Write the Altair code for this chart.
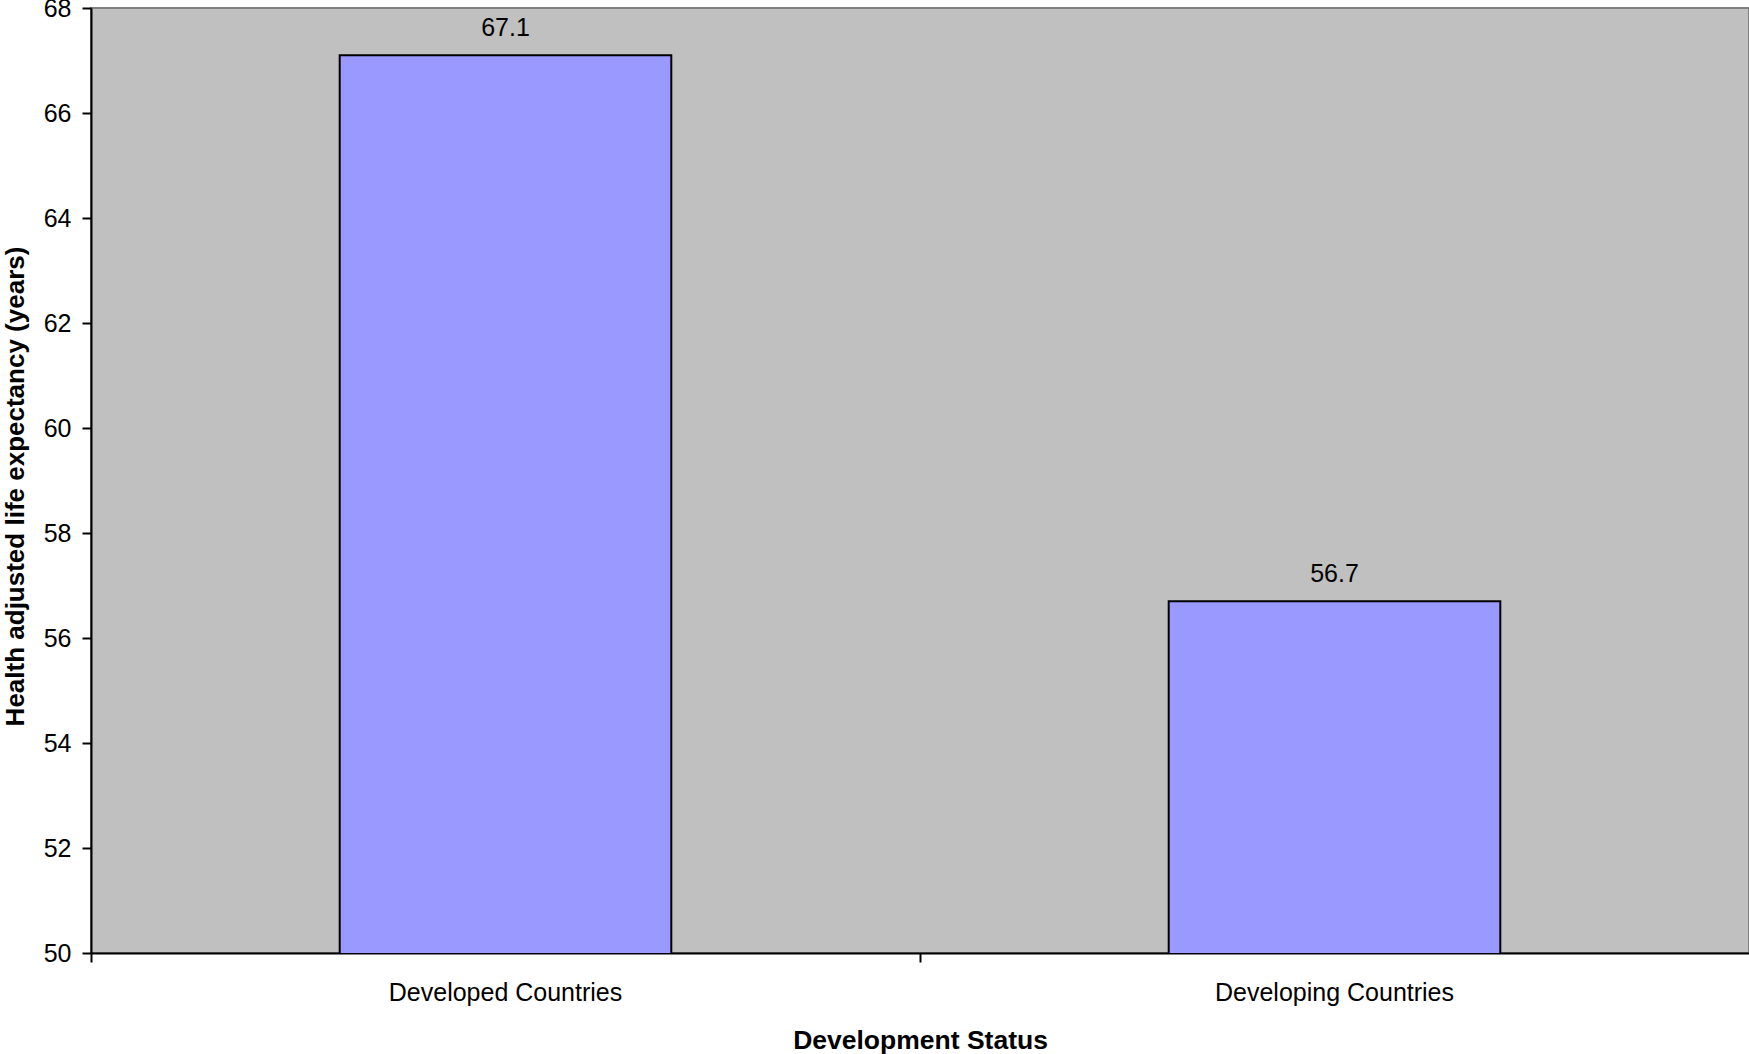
import altair as alt
import pandas as pd

categories = ["Developed Countries", "Developing Countries"]
values = [67.1, 56.7]
y_ticks = [50, 52, 54, 56, 58, 60, 62, 64, 66, 68]

df = pd.DataFrame({"status": categories, "hale": values})

FONT = "Liberation Sans"

x_enc = alt.X(
    "status:N",
    sort=categories,
    scale=alt.Scale(paddingInner=0.6, paddingOuter=0.3),
    axis=alt.Axis(
        title="Development Status",
        labelAngle=0,
        labelLimit=0,
        bandPosition=-0.75,
        labelFontSize=25,
        labelFont=FONT,
        labelColor="#000000",
        labelPadding=18,
        tickSize=9,
        tickWidth=2,
        tickColor="#000000",
        domainColor="#000000",
        domainWidth=2,
        titleFont=FONT,
        titleFontSize=26.5,
        titleFontWeight="bold",
        titleColor="#000000",
        titleBaseline="alphabetic",
        titleY=95,
        grid=False,
    ),
)
y_enc = alt.Y(
    "hale:Q",
    scale=alt.Scale(domain=[50, 68], nice=False, zero=False),
    axis=alt.Axis(
        title="Health adjusted life expectancy (years)",
        values=y_ticks,
        labelFontSize=25,
        labelFont=FONT,
        labelColor="#000000",
        labelPadding=11,
        tickSize=9,
        tickWidth=2,
        tickColor="#000000",
        domainColor="#000000",
        domainWidth=2,
        titleFont=FONT,
        titleFontSize=26,
        titleFontWeight="bold",
        titleColor="#000000",
        titleBaseline="alphabetic",
        titleX=-68,
        titleY=478,
        grid=False,
    ),
)

bars = alt.Chart(df).mark_bar(
    color="#9999FF", stroke="#000000", strokeWidth=2, clip=True
).encode(x=x_enc, y=y_enc)

labels = alt.Chart(df).mark_text(
    dy=-19, baseline="alphabetic", fontSize=25, font=FONT, color="#000000"
).encode(x=alt.X("status:N", sort=categories), y=alt.Y("hale:Q"), text=alt.Text("hale:Q", format=".1f"))

chart = (
    alt.layer(bars, labels)
    .properties(
        width=1658,
        height=945,
        autosize=alt.AutoSizeParams(type="none"),
        padding={"left": 91, "top": 8, "right": 0, "bottom": 101},
        background="#FFFFFF",
    )
    .configure_view(fill="#C0C0C0", stroke="#808080", strokeWidth=2)
)

chart.save("out.html", embed_options={"renderer": "svg", "actions": False})
